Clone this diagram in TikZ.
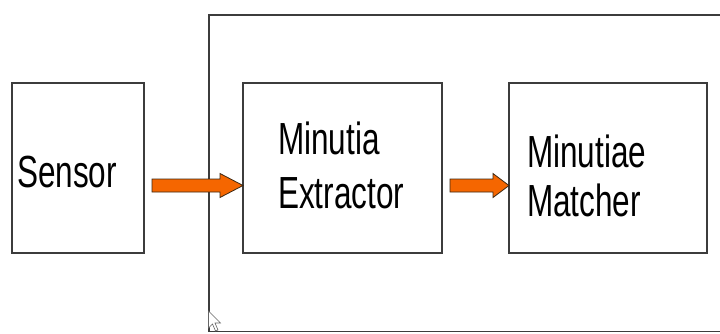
\documentclass[tikz,border=0pt]{standalone}
\usepackage{fontspec}
\setmainfont{Liberation Sans}[FakeStretch=0.70]
\usetikzlibrary{calc}
\definecolor{arrfill}{RGB}{245,102,0}
\definecolor{arrline}{RGB}{60,40,20}
\definecolor{boxline}{RGB}{60,60,60}
\tikzset{
  blockbox/.style={draw=boxline, line width=1.3pt, inner sep=0pt, outer sep=0pt, anchor=north west, fill=white},
  framepath/.style={draw=boxline, line width=1.1pt},
  lbl/.style={inner sep=0pt, anchor=base west, font=\fontsize{45}{52}\selectfont, text=black},
  fatarr/.style={fill=arrfill, draw=arrline, line width=0.8pt, line join=miter},
}
\newcommand\fatarrow[3]{%
  \draw[fatarr] ($(#1)+(0,-6.5)$) -- ($(#2)+(-#3,-6.5)$) -- ($(#2)+(-#3,-12)$) -- (#2)
    -- ($(#2)+(-#3,12)$) -- ($(#2)+(-#3,6.5)$) -- ($(#1)+(0,6.5)$) -- cycle;}
\begin{document}
\begin{tikzpicture}[x=1pt,y=-1pt]
\useasboundingbox (0,0) rectangle (720,333);
% outer frame
\coordinate (frTR) at (722,15);
\coordinate (frTL) at (209,15);
\coordinate (frBL) at (209,331.5);
\coordinate (frBR) at (722,331.5);
\draw[framepath] (frTR) -- (frTL) -- (frBL) -- (frBR);
% blocks
\node[blockbox, minimum width=132pt, minimum height=170pt] (sensor) at (12,83) {};
\node[blockbox, minimum width=199pt, minimum height=170pt] (ext) at (243,83) {};
\node[blockbox, minimum width=198pt, minimum height=170pt] (mat) at (509,83) {};
% labels
\node[lbl] (sensorT) at (17,187) {Sensor};
\node[lbl] (extT1) at (278,154) {Minutia};
\node[lbl] (extT2) at (278,208) {Extractor};
\node[lbl] (matT1) at (527,167) {Minutiae};
\node[lbl] (matT2) at (527,216) {Matcher};
% arrows
\coordinate (a1s) at ([xshift=8pt,yshift=-17.5pt]sensor.east);
\coordinate (a1e) at ([yshift=-17.5pt]ext.west);
\coordinate (a2s) at ([xshift=8pt,yshift=-17.5pt]ext.east);
\coordinate (a2e) at ([yshift=-17.5pt]mat.west);
\fatarrow{a1s}{a1e}{23}
\fatarrow{a2s}{a2e}{16}
% mouse cursor
\coordinate (cur) at (208.5,311);
\draw[fill=white, draw=gray!80!black, line width=0.6pt, line join=miter]
  (cur) -- ++(0,17) -- ++(4,-4) -- ++(3,7) -- ++(2.5,-1) -- ++(-3,-7) -- ++(5.5,0) -- cycle;
\end{tikzpicture}
\end{document}
